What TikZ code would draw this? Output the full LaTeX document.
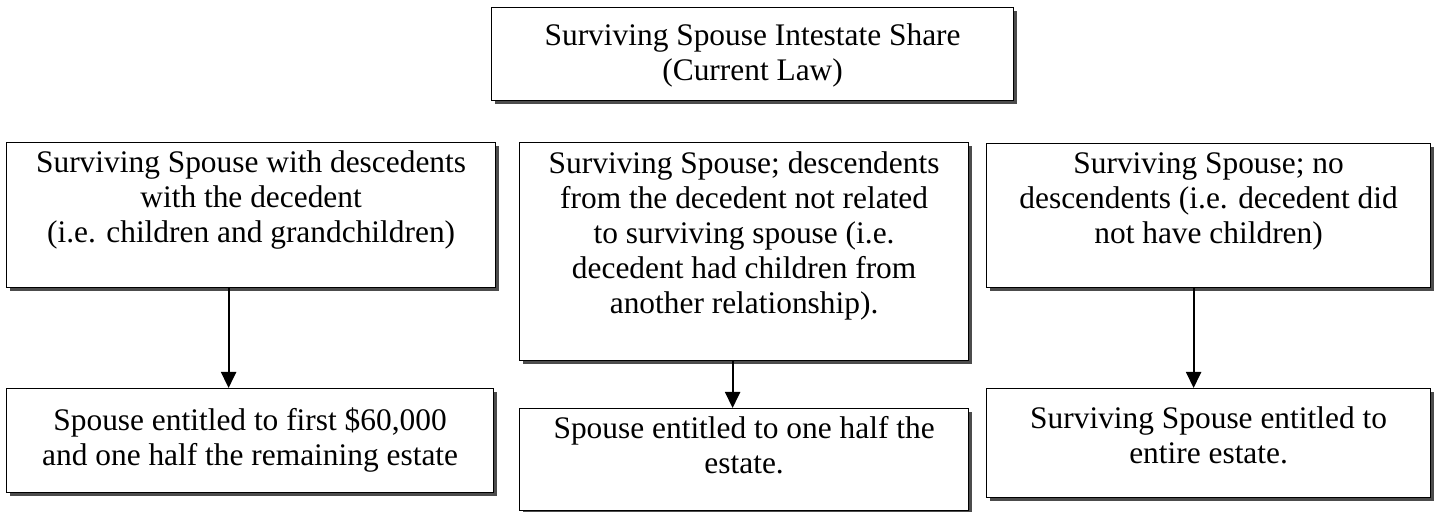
\documentclass[tikz,border=0pt]{standalone}
\usepackage{fontspec}
\setmainfont{Liberation Serif}
\usepackage{tikz}
\usetikzlibrary{positioning,shadows,arrows.meta}
\newcommand{\boxtext}[4]{\parbox[c][#2][t]{#1}{\centering\rule{0pt}{#3}#4}}

\begin{document}
\begin{tikzpicture}[x=0.5pt,y=0.5pt,yscale=-1,
  box/.style={draw, line width=0.6pt, fill=white, inner sep=0pt, anchor=north west,
    font=\fontsize{15.7pt}{17.5pt}\selectfont,
    drop shadow={shadow xshift=1.5pt, shadow yshift=-1.5pt, fill=black!70, opacity=1}},
  arr/.style={line width=1pt, -{Triangle[length=8pt,width=7.5pt]}}]
\useasboundingbox (0,0) rectangle (1439,512);

%Flowchart: Process (title)
\node[box] (head) at (491,7) {\boxtext{261pt}{46.5pt}{19pt}{Surviving Spouse Intestate Share\\(Current Law)}};

%Flowchart: Process (cases)
\node[box] (withdesc) at (6,142) {\boxtext{244.5pt}{72.5pt}{15pt}{Surviving Spouse with descedents\\with the decedent\\(i.e. children and grandchildren)}};
\node[box] (otherdesc) at (519,142) {\boxtext{224.5pt}{109pt}{15.5pt}{Surviving Spouse; descendents\\from the decedent not related\\to surviving spouse (i.e.\\decedent had children from\\another relationship).}};
\node[box] (nodesc) at (986,143) {\boxtext{222pt}{72pt}{15pt}{Surviving Spouse; no\\descendents (i.e. decedent did\\not have children)}};

%Flowchart: Process (shares)
\node[box] (shareone) at (6,388) {\boxtext{243.5pt}{52pt}{21pt}{Spouse entitled to first \$60,000\\and one half the remaining estate}};
\node[box] (sharetwo) at (519,408) {\boxtext{224.5pt}{51pt}{15pt}{Spouse entitled to one half the\\estate.}};
\node[box] (sharethree) at (986,388) {\boxtext{222pt}{54.5pt}{20pt}{Surviving Spouse entitled to\\entire estate.}};

%Straight Arrows
\draw[arr] ([xshift=-11.25pt]withdesc.south) -- ([xshift=-10.75pt]shareone.north);
\draw[arr] ([xshift=-5.75pt]otherdesc.south) -- ([xshift=-5.75pt]sharetwo.north);
\draw[arr] ([xshift=-7.5pt]nodesc.south) -- ([xshift=-7.5pt]sharethree.north);

\end{tikzpicture}
\end{document}
